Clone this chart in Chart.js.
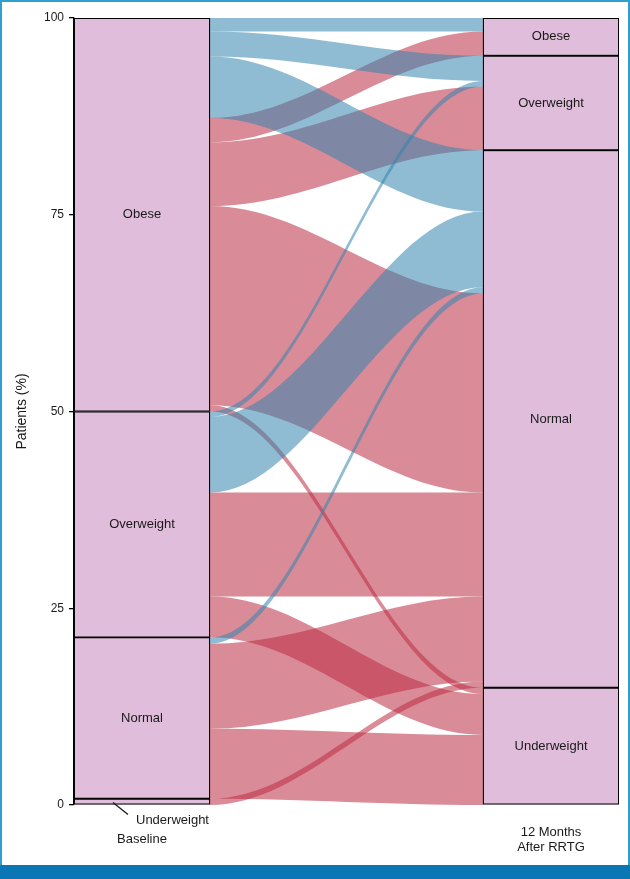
<!DOCTYPE html>
<html>
<head>
<meta charset="utf-8">
<title>Weight category of patients, baseline and 12 months after RRTG</title>
<script src="https://cdn.jsdelivr.net/npm/chart.js@4.4.1/dist/chart.umd.min.js"></script>
<style>
  html, body { margin: 0; padding: 0; background: #fff; }
  canvas { display: block; }
</style>
</head>
<body>
<canvas id="alluvialChart" width="630" height="879"></canvas>
<script>
// Strata, listed top to bottom on both axes
const strata = ["Obese", "Overweight", "Normal", "Underweight"];
const timeLabels = ["Baseline", ["12 Months", "After RRTG"]];
const yTicks = [0, 25, 50, 75, 100];

// Flows from baseline to 12 months, % of patients (group 0 = blue, 1 = red)
const flowFrom = ["Obese", "Obese", "Obese", "Overweight", "Overweight", "Normal",
                  "Obese", "Obese", "Obese", "Obese", "Overweight", "Overweight", "Normal", "Normal", "Underweight"];
const flowTo = ["Obese", "Overweight", "Normal", "Overweight", "Normal", "Normal",
                "Obese", "Overweight", "Normal", "Underweight", "Normal", "Underweight", "Normal", "Underweight", "Normal"];
const flowGroup = [0, 0, 0, 0, 0, 0, 1, 1, 1, 1, 1, 1, 1, 1, 1];
const flowPercent = [1.7, 3.2, 7.8, 0.7, 9.6, 0.8, 3.1, 8.1, 25.3, 0.8, 13.2, 5.2, 10.8, 8.9, 0.8];

const font = '"Liberation Sans", Arial, sans-serif';
const ink = '#1a1a1a';
const groupColors = ['rgba(51,133,173,0.55)', 'rgba(188,44,68,0.55)'];

// stack flows inside each stratum: blue before red, then by the other side's stratum
function stackSide(key, other) {
    const pos = [];
    const totals = strata.map(() => 0);
    let cur = 100;
    strata.forEach((s, si) => {
        const idx = flowPercent.map((p, i) => i).filter(i => key[i] === s);
        idx.sort((a, b) => flowGroup[a] - flowGroup[b] ||
            strata.indexOf(other[a]) - strata.indexOf(other[b]));
        idx.forEach(i => {
            pos[i] = [cur - flowPercent[i], cur];
            cur -= flowPercent[i];
            totals[si] += flowPercent[i];
        });
    });
    return { pos, totals };
}

const left = stackSide(flowFrom, flowTo);
const right = stackSide(flowTo, flowFrom);

function ranges(totals) {
    let top = 100;
    return totals.map(t => {
        const r = [Math.max(0, top - t), top];
        top -= t;
        return r;
    });
}
const leftRanges = ranges(left.totals);
const rightRanges = ranges(right.totals);

// Flows between the two columns
const flowPlugin = {
    id: 'flows',
    beforeDatasetsDraw(chart) {
        const { ctx, scales: { x, y } } = chart;
        const half = chart.getDatasetMeta(0).data[0].width / 2;
        const x0 = x.getPixelForValue(0) + half;
        const x1 = x.getPixelForValue(1) - half;
        const c0 = x0 + (x1 - x0) * 0.36;
        const c1 = x1 - (x1 - x0) * 0.36;
        ctx.save();
        [1, 0].forEach(g => {
            flowPercent.forEach((p, i) => {
                if (flowGroup[i] !== g) return;
                const yl0 = y.getPixelForValue(left.pos[i][0]);
                const yl1 = y.getPixelForValue(left.pos[i][1]);
                const yr0 = y.getPixelForValue(right.pos[i][0]);
                const yr1 = y.getPixelForValue(right.pos[i][1]);
                ctx.beginPath();
                ctx.moveTo(x0, yl1);
                ctx.bezierCurveTo(c0, yl1, c1, yr1, x1, yr1);
                ctx.lineTo(x1, yr0);
                ctx.bezierCurveTo(c1, yr0, c0, yl0, x0, yl0);
                ctx.closePath();
                ctx.fillStyle = groupColors[g];
                ctx.fill();
            });
        });
        ctx.restore();
    }
};

// Stratum names inside the boxes (or beside them when too thin)
const labelPlugin = {
    id: 'strataLabels',
    afterDatasetsDraw(chart) {
        const ctx = chart.ctx;
        ctx.save();
        ctx.font = '13px ' + font;
        ctx.fillStyle = ink;
        ctx.strokeStyle = ink;
        chart.data.datasets.forEach((ds, di) => {
            chart.getDatasetMeta(di).data.forEach(bar => {
                const top = Math.min(bar.y, bar.base);
                const bottom = Math.max(bar.y, bar.base);
                const mid = (top + bottom) / 2;
                if (bottom - top > 14) {
                    ctx.textAlign = 'center';
                    ctx.textBaseline = 'middle';
                    ctx.fillText(ds.label, bar.x, mid);
                } else {
                    const sx = bar.x - 29;
                    ctx.beginPath();
                    ctx.moveTo(sx, mid + 1);
                    ctx.lineTo(sx + 15, mid + 13);
                    ctx.lineWidth = 1.3;
                    ctx.stroke();
                    ctx.textAlign = 'left';
                    ctx.textBaseline = 'middle';
                    ctx.fillText(ds.label, sx + 23, mid + 19);
                }
            });
        });
        ctx.restore();
    }
};

// Page frame
const framePlugin = {
    id: 'frame',
    afterDraw(chart) {
        const { ctx, width, height } = chart;
        ctx.save();
        ctx.fillStyle = '#2f9fd0';
        ctx.fillRect(0, 0, width, 2);
        ctx.fillRect(0, 0, 2, height - 14);
        ctx.fillRect(width - 2, 0, 2, height - 14);
        ctx.fillStyle = '#0a76b4';
        ctx.fillRect(0, height - 14, width, 14);
        ctx.restore();
    }
};

new Chart(document.getElementById('alluvialChart'), {
    type: 'bar',
    data: {
        datasets: strata.map((s, si) => ({
            label: s,
            data: [{ x: 0, y: leftRanges[si] }, { x: 1, y: rightRanges[si] }],
            backgroundColor: '#dfbddb',
            borderColor: '#000',
            borderWidth: 1.3,
            borderSkipped: false,
            grouped: false,
            barThickness: 136,
            maxBarThickness: 136
        }))
    },
    options: {
        responsive: false,
        animation: false,
        layout: { padding: { left: 14, right: 11, top: 18, bottom: 24 } },
        plugins: {
            legend: { display: false },
            tooltip: { enabled: false }
        },
        scales: {
            x: {
                type: 'linear',
                offset: false,
                min: -0.16626,
                max: 1.16626,
                afterBuildTicks: s => { s.ticks = timeLabels.map((t, i) => ({ value: i })); },
                afterFit: s => { s.height = 50; },
                ticks: {
                    callback: (v, i) => timeLabels[i],
                    font: { size: 13, family: font },
                    color: ink,
                    padding: 27,
                    crossAlign: 'center',
                    maxRotation: 0,
                    autoSkip: false
                },
                grid: { display: false, drawTicks: false, offset: false },
                border: { display: false }
            },
            y: {
                min: 0,
                max: 100,
                afterBuildTicks: s => { s.ticks = yTicks.map(v => ({ value: v })); },
                afterFit: s => { s.width = 60; },
                ticks: { font: { size: 12, family: font }, color: ink, padding: 5 },
                grid: { drawOnChartArea: false, tickLength: 5, color: '#000', lineWidth: 1.3 },
                border: { color: '#000', width: 1.3 },
                title: {
                    display: true,
                    text: 'Patients (%)',
                    font: { size: 14, family: font },
                    color: ink,
                    padding: 0
                }
            }
        }
    },
    plugins: [flowPlugin, labelPlugin, framePlugin]
});
</script>
</body>
</html>
